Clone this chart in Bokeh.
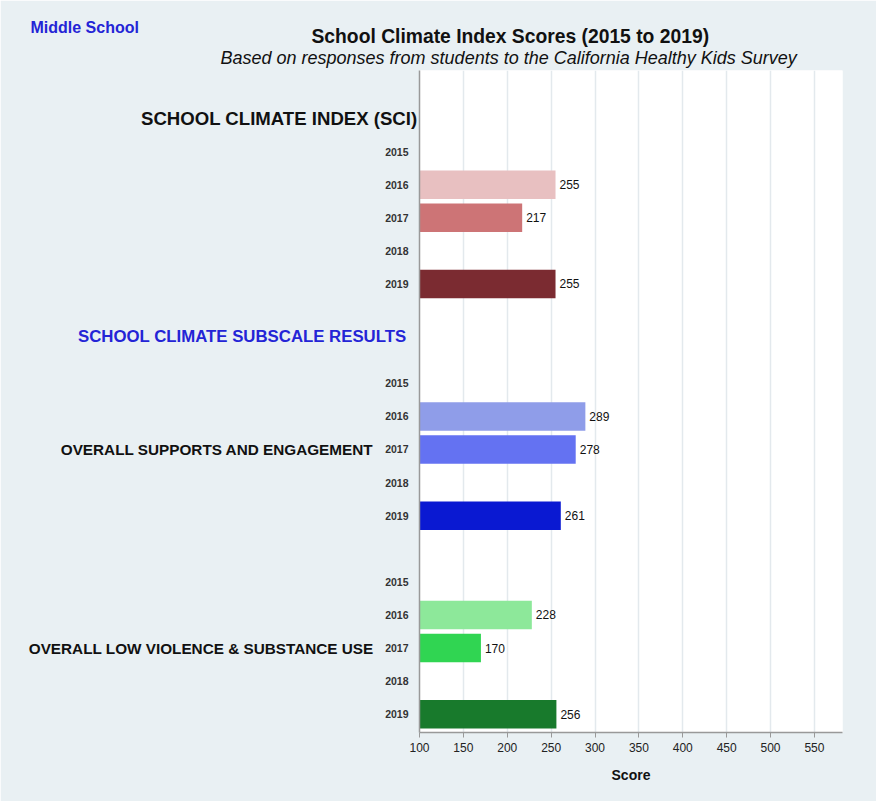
from bokeh.plotting import figure
from bokeh.models import Range1d, FixedTicker, ColumnDataSource, LinearAxis, Title
from bokeh.embed import file_html
from bokeh.resources import INLINE

# ---- data ----
years = ["2015", "2016", "2017", "2018", "2019"]
sci_scores = [None, 255, 217, None, 255]
supports_scores = [None, 289, 278, None, 261]
violence_scores = [None, 228, 170, None, 256]

sci_colors = ["#f0d0d0", "#e8c0c1", "#cd7476", "#a84a50", "#7b2b31"]
supports_colors = ["#b8c0f0", "#8f9de9", "#6472f2", "#3040e0", "#0a19d2"]
violence_colors = ["#b8f0c0", "#8de89a", "#30d552", "#20a040", "#187a2c"]

group_titles = ["SCHOOL CLIMATE INDEX (SCI)", "OVERALL SUPPORTS AND ENGAGEMENT",
                "OVERALL LOW VIOLENCE & SUBSTANCE USE"]
subscale_title = "SCHOOL CLIMATE SUBSCALE RESULTS"
main_title = "School Climate Index Scores (2015 to 2019)"
sub_title = "Based on responses from students to the California Healthy Kids Survey"
corner_label = "Middle School"
x_ticks = [100, 150, 200, 250, 300, 350, 400, 450, 500, 550]
x_label = "Score"

# ---- layout constants ----
group_start = [0, 7, 13]      # first row of each group
FONT = "Liberation Sans"
BLUE = "#2424d6"

W, H = 876, 801
p = figure(width=W, height=H, output_backend="svg", toolbar_location=None,
           x_range=Range1d(100, 582), y_range=Range1d(17.55, -2.45),
           min_border_left=419, min_border_right=34, min_border_top=70,
           min_border_bottom=69)
p.background_fill_color = "white"
p.border_fill_color = "#e9f0f3"
p.outline_line_color = None

series = [sci_scores, supports_scores, violence_scores]
colors = [sci_colors, supports_colors, violence_colors]

ticks = []
overrides = {}
for g, (vals, cols) in enumerate(zip(series, colors)):
    ys, rights, cs, lab_t = [], [], [], []
    for i, (yr, v) in enumerate(zip(years, vals)):
        row = group_start[g] + i
        ticks.append(row)
        overrides[row] = yr
        if v is not None:
            ys.append(row)
            rights.append(v)
            cs.append(cols[i])
            lab_t.append(str(v))
    src = ColumnDataSource(dict(y=ys, right=rights, color=cs, t=lab_t))
    p.hbar(y="y", left=100, right="right", height=0.86, fill_color="color",
           line_color=None, source=src)
    p.text(x="right", y="y", text="t", x_offset=4, text_baseline="middle",
           text_align="left", text_font_size="12px", text_color="#111111",
           text_font={"value": FONT}, source=src)

# year axis
p.yaxis.ticker = FixedTicker(ticks=ticks)
p.yaxis.major_label_overrides = overrides
p.yaxis.major_label_text_font_size = "10.5px"
p.yaxis.major_label_text_font_style = "bold"
p.yaxis.major_label_text_color = "#333333"
p.yaxis.major_label_text_font = FONT
p.yaxis.major_tick_line_color = None
p.yaxis.major_tick_out = 0
p.yaxis.major_tick_in = 0
p.yaxis.minor_tick_line_color = None
p.yaxis.axis_line_color = "#999999"
p.yaxis.axis_line_width = 1.5
p.yaxis.major_label_standoff = 11


def header_axis(rows, texts, size, color, standoff):
    ax = LinearAxis(ticker=FixedTicker(ticks=rows),
                    major_label_overrides={r: t for r, t in zip(rows, texts)},
                    axis_line_color=None, major_tick_line_color=None,
                    minor_tick_line_color=None, major_tick_out=0,
                    major_tick_in=0, major_label_standoff=standoff,
                    major_label_text_font=FONT,
                    major_label_text_font_style="bold",
                    major_label_text_font_size=size,
                    major_label_text_color=color)
    p.add_layout(ax, "left")


header_axis([group_start[0] - 1], [group_titles[0]], "18.6px", "#111111", -35)
header_axis([5.6], [subscale_title], "16.8px", BLUE, -268)
header_axis([group_start[1] + 2, group_start[2] + 2], group_titles[1:],
            "15.3px", "#111111", -298)

# x axis
p.xaxis.ticker = FixedTicker(ticks=x_ticks)
p.xaxis.major_label_text_font_size = "12px"
p.xaxis.major_label_text_color = "#222222"
p.xaxis.major_label_text_font = FONT
p.xaxis.major_tick_line_color = "#999999"
p.xaxis.major_tick_out = 5
p.xaxis.major_tick_in = 0
p.xaxis.minor_tick_line_color = None
p.xaxis.axis_line_color = "#999999"
p.xaxis.axis_line_width = 1.5
p.xaxis.axis_label = x_label
p.xaxis.axis_label_text_font = FONT
p.xaxis.axis_label_text_font_style = "bold"
p.xaxis.axis_label_text_font_size = "14px"
p.xaxis.axis_label_text_color = "#111111"
p.xaxis.axis_label_standoff = 12

p.ygrid.grid_line_color = None
p.xgrid.grid_line_color = "#e3e9ed"
p.xgrid.grid_line_width = 1.5

# titles: p.title sits outermost; added titles stack nearest-first
p.title.text = corner_label
p.title.text_font = FONT
p.title.text_font_style = "bold"
p.title.text_font_size = "16px"
p.title.text_color = BLUE
p.title.align = "left"
p.title.offset = -389
p.title.standoff = -16

p.add_layout(Title(text=sub_title, text_font=FONT, text_font_style="italic",
                   text_font_size="18px", text_color="#111111", align="left",
                   offset=-199, standoff=6), "above")
p.add_layout(Title(text=main_title, text_font=FONT, text_font_style="bold",
                   text_font_size="19.3px", text_color="#111111", align="left",
                   offset=-108, standoff=-8), "above")

open("out.html", "w").write(file_html(p, INLINE))
